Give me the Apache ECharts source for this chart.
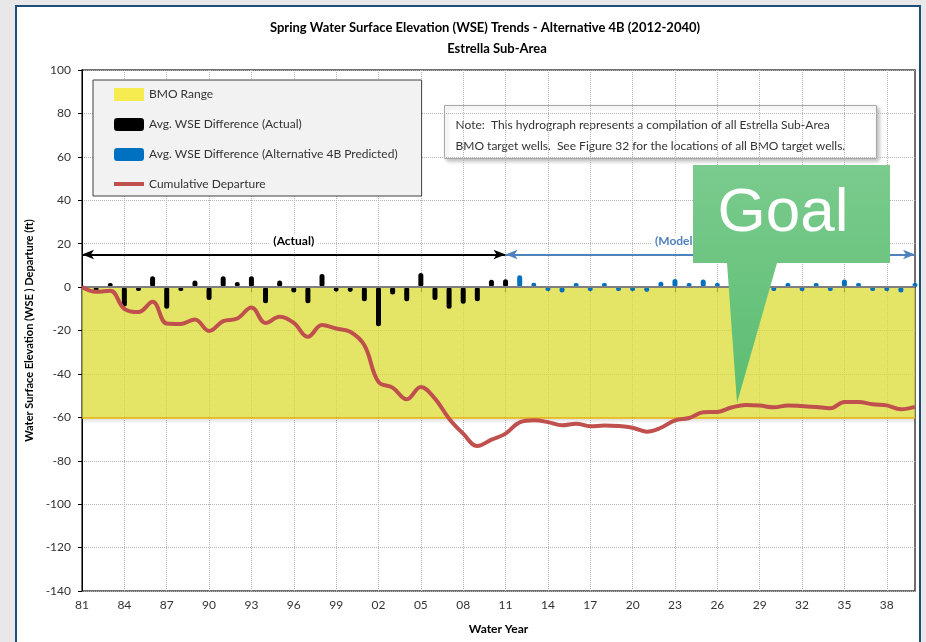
<!DOCTYPE html>
<html>
<head>
<meta charset="utf-8">
<script src="https://cdn.jsdelivr.net/npm/echarts@6/dist/echarts.min.js"></script>
<style>
  html, body { margin: 0; padding: 0; background: #e8e8e8; overflow: hidden; }
  #panel {
    position: absolute; left: 15px; top: 5px; width: 902px; height: 700px;
    background: #ffffff; border: 2px solid #1f4e79;
  }
  #chart { position: absolute; left: 0; top: 0; width: 926px; height: 642px; }
</style>
</head>
<body>
<div id="panel"></div>
<div id="chart"></div>
<script>
// water years 1981 - 2040
const years = [];
for (let y = 1981; y <= 2040; y++) years.push(String(y));

// avg. WSE difference, actual (1981-2011), ft
const actualDiff = [
  null, -1, 0.5, -9, -1.5, 5, -10, -1.5, 3, -6,
  5, 2.3, 5, -7.5, 3, -2.5, -7.5, 6, -2, -2.3,
  -6.5, -18, -3.4, -6.5, 6.5, -6, -10, -7.7, -6.5, 3.4,
  3.6
];

// avg. WSE difference, alternative 4B predicted (2012-2040), ft
const predictedDiff = [
  5.5, 2, -1.5, -2.5, 1, -1.5, 0.5, -1, -1.5,
  -2.3, 2.5, 3.7, 1, 3.5, 0.5, 0.5, -1, 0.5, -1,
  1, -0.5, 0.3, -0.5, 3.5, 0.3, -1.5, -0.5, -2.5, 1
];

// cumulative departure (1981-2040), ft
const cumulative = [
  0, -2.2, -1.7, -10, -11.5, -6.8, -16.8, -17, -14.9, -20.2,
  -15.7, -14.5, -9.4, -16.5, -13.7, -16.5, -22.9, -17.5, -19.1, -20.6,
  -26.8, -43.7, -46.3, -51.7, -46, -51.4, -60.6, -67.5, -73.2, -70.3,
  -67.5, -62.3, -61.4, -62.2, -63.7, -62.9, -64.1, -63.8, -64, -64.8,
  -66.6, -64.8, -61.4, -60.3, -57.7, -57.5, -55.5, -54.3, -54.6, -55.4,
  -54.5, -54.8, -55.2, -55.8, -52.9, -52.9, -54, -54.5, -56.3, -55.2
];

const bmoTop = 0;
const bmoBottom = -60;

// pad the two bar series onto the full year axis
const actualSeries = years.map((y, i) => (i < actualDiff.length ? actualDiff[i] : null));
const predictedSeries = years.map((y, i) => (i > actualDiff.length - 1 ? predictedDiff[i - actualDiff.length] : null));

const FONT = 'Lato';

const chart = echarts.init(document.getElementById('chart'));
const option = {
  animation: false,
  backgroundColor: 'transparent',
  textStyle: { fontFamily: FONT },
  title: [
    {
      text: 'Spring Water Surface Elevation (WSE) Trends - Alternative 4B (2012-2040)',
      left: 480, top: 16, textAlign: 'center',
      textStyle: { fontSize: 13, fontWeight: 'bold', color: '#000', fontFamily: FONT }
    },
    {
      text: 'Estrella Sub-Area',
      left: 492, top: 37, textAlign: 'center',
      textStyle: { fontSize: 13, fontWeight: 'bold', color: '#000', fontFamily: FONT }
    }
  ],
  legend: {
    orient: 'vertical',
    left: 93, top: 80,
    itemWidth: 30, itemHeight: 13, itemGap: 17,
    padding: [8, 24, 6, 21],
    backgroundColor: '#f2f2f2',
    borderColor: '#404040', borderWidth: 1,
    selectedMode: false,
    textStyle: { fontSize: 12, color: '#333', fontFamily: FONT },
    data: [
      { name: 'BMO Range', icon: 'rect' },
      { name: 'Avg. WSE Difference (Actual)', icon: 'roundRect' },
      { name: 'Avg. WSE Difference (Alternative 4B Predicted)', icon: 'roundRect' },
      { name: 'Cumulative Departure', icon: 'path://M0,0h30v4h-30z' }
    ]
  },
  grid: {
    left: 82, top: 70, right: 11, bottom: 51,
    show: true, borderColor: '#404040', borderWidth: 1.5,
    backgroundColor: 'transparent'
  },
  xAxis: {
    type: 'category',
    data: years,
    boundaryGap: false,
    name: 'Water Year',
    nameLocation: 'middle',
    nameGap: 32,
    nameTextStyle: { fontSize: 12, fontWeight: 'bold', color: '#000' },
    axisLine: { lineStyle: { color: '#000', width: 1 } },
    axisTick: { interval: 2, length: 5, lineStyle: { color: '#000' } },
    axisLabel: {
      interval: 2, margin: 8, fontSize: 12, color: '#333',
      formatter: v => v.slice(2)
    },
    splitLine: { show: true, interval: 2, lineStyle: { color: '#b5b5b5', type: 'dotted', width: 1 } }
  },
  yAxis: {
    type: 'value',
    min: -140, max: 100, interval: 20,
    name: 'Water Surface Elevation (WSE ) Departure (ft)',
    nameLocation: 'middle',
    nameRotate: 90,
    nameGap: 36,
    nameTextStyle: { fontSize: 11, fontWeight: 'bold', color: '#000' },
    axisLine: { show: true, lineStyle: { color: '#000', width: 1 } },
    axisTick: { show: true, length: 4, lineStyle: { color: '#000' } },
    axisLabel: { margin: 11, fontSize: 12, color: '#333' },
    splitLine: { lineStyle: { color: '#b5b5b5', type: 'dotted', width: 1 } }
  },
  series: [
    {
      name: 'BMO Range',
      type: 'line',
      data: [],
      itemStyle: { color: '#f7ec4f' },
      silent: true,
      markArea: {
        silent: true,
        data: [
          [{ yAxis: bmoTop, itemStyle: { color: 'rgba(219,220,51,0.75)' } }, { yAxis: bmoBottom }],
          [{
            yAxis: bmoBottom,
            itemStyle: {
              color: new echarts.graphic.LinearGradient(0, 0, 0, 1, [
                { offset: 0, color: 'rgba(0,0,0,0.16)' },
                { offset: 1, color: 'rgba(0,0,0,0)' }
              ])
            }
          }, { yAxis: bmoBottom - 3 }]
        ]
      },
      markLine: {
        silent: true,
        symbol: 'none',
        label: { show: false },
        data: [
          { yAxis: bmoTop, lineStyle: { color: '#7f7f7f', width: 2, type: 'solid' } },
          { yAxis: bmoBottom, lineStyle: { color: '#f2b800', width: 1.5, type: 'solid' } }
        ]
      }
    },
    {
      name: 'Avg. WSE Difference (Actual)',
      type: 'bar',
      data: actualSeries,
      barWidth: 5,
      barGap: '-100%',
      barMinHeight: 4,
      itemStyle: { color: '#000000', borderRadius: 2.5 },
      markLine: {
        silent: true,
        symbol: ['arrow', 'arrow'],
        symbolSize: [7, 12],
        label: { show: false },
        lineStyle: { color: '#000', width: 2, type: 'solid' },
        data: [[{ coord: ['1981', 15] }, { coord: ['2011', 15] }]]
      },
      markPoint: {
        silent: true,
        symbolSize: 0,
        label: {
          show: true, position: 'inside', formatter: '{b}',
          fontSize: 12, fontWeight: 'bold', color: '#000',
          backgroundColor: '#fff', padding: [1, 4]
        },
        data: [{ name: '(Actual)', coord: ['1996', 21] }]
      }
    },
    {
      name: 'Avg. WSE Difference (Alternative 4B Predicted)',
      type: 'bar',
      data: predictedSeries,
      barWidth: 5,
      barGap: '-100%',
      barMinHeight: 4,
      itemStyle: { color: '#0070c0', borderRadius: 2.5 },
      markLine: {
        silent: true,
        symbol: ['arrow', 'arrow'],
        symbolSize: [7, 12],
        label: { show: false },
        lineStyle: { color: '#4f81bd', width: 2, type: 'solid' },
        data: [[{ coord: ['2011', 15] }, { coord: ['2040', 15] }]]
      },
      markPoint: {
        silent: true,
        symbolSize: 0,
        label: {
          show: true, position: 'inside', formatter: '{b}',
          fontSize: 12, fontWeight: 'bold', color: '#4f81bd',
          backgroundColor: '#fff', padding: [1, 4], offset: [7, 0]
        },
        data: [{ name: '(Modeled)', coord: ['2023', 21] }]
      }
    },
    {
      name: 'Cumulative Departure',
      type: 'line',
      data: cumulative,
      smooth: 0.4,
      symbol: 'none',
      z: 5,
      itemStyle: { color: '#c0504d' },
      lineStyle: { color: '#c0504d', width: 4 }
    }
  ],
  graphic: [
    {
      type: 'group',
      left: 444, top: 105,
      children: [
        {
          type: 'rect',
          shape: { x: 0, y: 0, width: 432, height: 53 },
          style: {
            fill: '#fff', stroke: '#a6a6a6', lineWidth: 1,
            shadowBlur: 4, shadowOffsetX: 2, shadowOffsetY: 2, shadowColor: 'rgba(0,0,0,0.25)'
          }
        },
        {
          type: 'text',
          x: 11, y: 9,
          style: {
            text: 'Note:  This hydrograph represents a compilation of all Estrella Sub-Area\nBMO target wells.  See Figure 32 for the locations of all BMO target wells.',
            fontSize: 12, lineHeight: 21, fill: '#333', fontFamily: FONT
          }
        }
      ]
    },
    {
      type: 'polygon',
      z: 100,
      shape: {
        points: [[693, 165], [890, 165], [890, 263], [777, 263], [737, 403], [727, 263], [693, 263]]
      },
      style: {
        fill: new echarts.graphic.LinearGradient(0, 0, 0, 1, [
          { offset: 0, color: '#7acb8d' },
          { offset: 1, color: '#5bbd71' }
        ])
      }
    },
    {
      type: 'text',
      z: 101,
      x: 783, y: 214,
      style: {
        text: 'Goal', fontSize: 62, fill: '#ffffff',
        fontFamily: 'Liberation Sans', align: 'center', verticalAlign: 'middle'
      }
    }
  ]
};
chart.setOption(option);
</script>
</body>
</html>
